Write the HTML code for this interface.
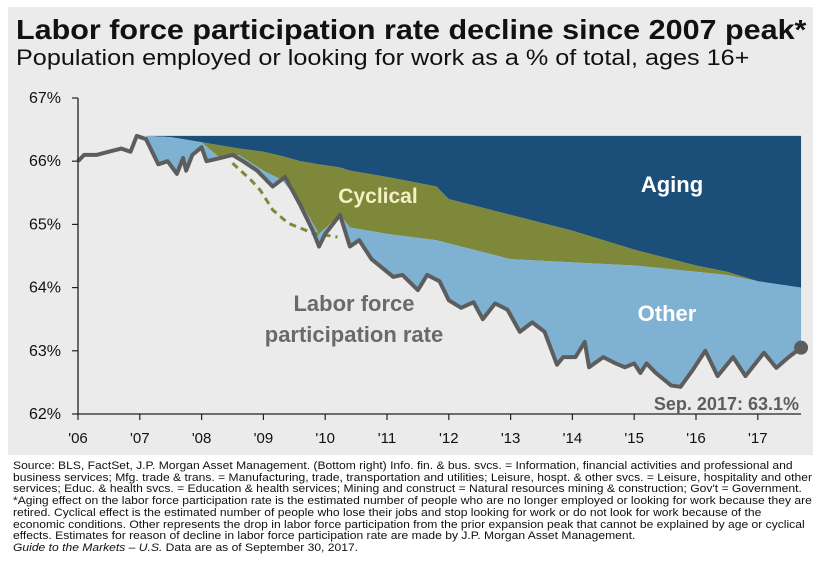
<!DOCTYPE html>
<html><head><meta charset="utf-8"><style>
html,body{margin:0;padding:0;background:#fff;}
body{width:823px;height:572px;position:relative;overflow:hidden;font-family:"Liberation Sans",Arial,sans-serif;}
#panel{position:absolute;left:8px;top:7px;width:805px;height:448px;background:#ebebeb;}
.t{position:absolute;white-space:nowrap;transform-origin:0 0;}
#foot{position:absolute;left:13px;top:461px;font-size:11px;line-height:11.7px;color:#111;white-space:nowrap;transform-origin:0 0;transform:scaleX(1.1);}
</style></head><body>
<div id="panel"></div>
<div class="t" style="left:16px;top:14px;font-size:28px;font-weight:bold;color:#111;transform:scaleX(1.09);">Labor force participation rate decline since 2007 peak*</div>
<div class="t" style="left:16px;top:45px;font-size:22.5px;color:#111;transform:scaleX(1.12);">Population employed or looking for work as a % of total, ages 16+</div>
<svg id="chart" width="823" height="460" style="position:absolute;left:0;top:0;"></svg>
<div id="foot">Source: BLS, FactSet, J.P. Morgan Asset Management. (Bottom right) Info. fin. &amp; bus. svcs. = Information, financial activities and professional and<br>business services; Mfg. trade &amp; trans. = Manufacturing, trade, transportation and utilities; Leisure, hospt. &amp; other svcs. = Leisure, hospitality and other<br>services; Educ. &amp; health svcs. = Education &amp; health services; Mining and construct = Natural resources mining &amp; construction; Gov't = Government.<br>*Aging effect on the labor force participation rate is the estimated number of people who are no longer employed or looking for work because they are<br>retired. Cyclical effect is the estimated number of people who lose their jobs and stop looking for work or do not look for work because of the<br>economic conditions. Other represents the drop in labor force participation from the prior expansion peak that cannot be explained by age or cyclical<br>effects. Estimates for reason of decline in labor force participation rate are made by J.P. Morgan Asset Management.<br><i>Guide to the Markets – U.S.</i> Data are as of September 30, 2017.</div>
<script>
const lfprYears=[2006.0,2006.1,2006.3,2006.5,2006.7,2006.85,2006.95,2007.1,2007.3,2007.45,2007.6,2007.7,2007.75,2007.85,2008.0,2008.08,2008.3,2008.5,2008.67,2008.9,2009.15,2009.35,2009.6,2009.8,2009.9,2010.0,2010.24,2010.4,2010.55,2010.75,2011.1,2011.25,2011.5,2011.65,2011.85,2012.0,2012.2,2012.4,2012.55,2012.75,2012.95,2013.15,2013.35,2013.55,2013.75,2013.85,2014.05,2014.2,2014.27,2014.5,2014.7,2014.85,2015.0,2015.1,2015.2,2015.35,2015.6,2015.75,2015.95,2016.15,2016.35,2016.6,2016.8,2017.1,2017.3,2017.5,2017.7];
const lfprValues=[66.0,66.1,66.1,66.15,66.2,66.15,66.4,66.35,65.95,66.0,65.8,66.05,65.85,66.1,66.22,66.0,66.05,66.1,66.0,65.85,65.6,65.75,65.3,64.9,64.65,64.85,65.15,64.65,64.75,64.45,64.17,64.2,63.96,64.2,64.1,63.8,63.68,63.77,63.5,63.75,63.65,63.3,63.45,63.3,62.78,62.9,62.9,63.14,62.74,62.9,62.8,62.74,62.8,62.65,62.8,62.65,62.45,62.43,62.7,63.0,62.6,62.9,62.6,62.97,62.73,62.9,63.05];
const bandYears=[2007.1,2007.5,2008.0,2008.3,2008.6,2009.0,2009.3,2009.6,2009.9,2010.24,2010.4,2011.0,2011.8,2012.0,2013.0,2014.0,2015.0,2016.0,2016.5,2017.0,2017.7];
const agingTop=[66.4,66.4,66.4,66.4,66.4,66.4,66.4,66.4,66.4,66.4,66.4,66.4,66.4,66.4,66.4,66.4,66.4,66.4,66.4,66.4,66.4];
const cyclicalTop=[66.4,66.38,66.3,66.25,66.2,66.15,66.08,66.0,65.95,65.9,65.85,65.75,65.6,65.4,65.15,64.9,64.6,64.35,64.25,64.1,64.0];
const otherTop=[66.4,66.38,66.3,66.05,66.1,65.85,65.7,65.35,64.85,65.15,64.95,64.85,64.75,64.7,64.45,64.4,64.35,64.25,64.2,64.1,64.0];
const dashYears=[2008.5,2008.8,2008.95,2009.15,2009.4,2009.8,2010.2];
const dashValues=[65.97,65.7,65.54,65.23,65.02,64.86,64.8];
const yTicks=[62,63,64,65,66,67];
const xTickLabels=["'06","'07","'08","'09","'10","'11","'12","'13","'14","'15","'16","'17"];
const xTickYears=[2006,2007,2008,2009,2010,2011,2012,2013,2014,2015,2016,2017];

const X=y=>78+(y-2006)*61.8;
const Y=v=>414-(v-62)*63.2;
const svg=document.getElementById('chart');
const NS='http://www.w3.org/2000/svg';
function mk(tag,attrs){const e=document.createElementNS(NS,tag);for(const k in attrs)e.setAttribute(k,attrs[k]);svg.appendChild(e);return e;}
function band(topArr,botArr,botYears){
  let p=bandYears.map((y,i)=>X(y)+','+Y(topArr[i]));
  let b=botYears.map((y,i)=>X(y)+','+Y(botArr[i])).reverse();
  return p.concat(b).join(' ');
}
const lo=lfprYears.map((y,i)=>[y,lfprValues[i]]).filter(d=>d[0]>=2007.1);
let e;
e=mk('polygon',{points:band(agingTop,cyclicalTop,bandYears),fill:'#1b4e78'});


e=mk('polygon',{points:band(cyclicalTop,otherTop,bandYears),fill:'#7d883a'});


e=mk('polygon',{points:band(otherTop,lo.map(d=>d[1]),lo.map(d=>d[0])),fill:'#7eb1d2'});


e=mk('polyline',{points:dashYears.map((y,i)=>X(y)+','+Y(dashValues[i])).join(' '),fill:'none',stroke:'#7d883a','stroke-width':3,'stroke-dasharray':'7,5'});


e=mk('polyline',{points:lfprYears.map((y,i)=>X(y)+','+Y(lfprValues[i])).join(' '),fill:'none',stroke:'#5d5d5d','stroke-width':4,'stroke-linejoin':'round'});


const last=lfprValues.length-1;
e=mk('circle',{cx:X(lfprYears[last]),cy:Y(lfprValues[last]),r:7,fill:'#5d5d5d'});


e=mk('line',{x1:78,y1:Y(67),x2:78,y2:414,stroke:'#222','stroke-width':1.3});


e=mk('line',{x1:78,y1:414,x2:X(2017.7),y2:414,stroke:'#222','stroke-width':1.3});


yTicks.forEach(v=>{
  mk('line',{x1:72,y1:Y(v),x2:78,y2:Y(v),stroke:'#222','stroke-width':1.2});
  const t=mk('text',{x:61,y:Y(v)+5,'text-anchor':'end','font-size':16,fill:'#111'});
  t.textContent=v+'%';
  
  
});
xTickYears.forEach((y,i)=>{
  mk('line',{x1:X(y),y1:414,x2:X(y),y2:420,stroke:'#222','stroke-width':1.2});
  const t=mk('text',{x:X(y),y:443,'text-anchor':'middle','font-size':15,fill:'#111'});
  t.textContent=xTickLabels[i];
  
  
});
function label(txt,x,y,size,color,name,anchor){
  const t=mk('text',{x:x,y:y,'text-anchor':anchor||'middle','font-size':size,'font-weight':'bold',fill:color});
  t.textContent=txt;
  
  
}
label('Aging',672,192,22,'#ffffff','aging-label');
label('Other',667,321,22,'#ffffff','other-label');
label('Cyclical',378,203,21,'#f4f0c4','cyclical-label');
label('Labor force',354,311,22,'#6a6a6a','lfpr-label-line1');
label('participation rate',354,342,22,'#6a6a6a','lfpr-label-line2');
label('Sep. 2017: 63.1%',799,410,18,'#5d5d5d','latest-value-label','end');
</script>
</body></html>
